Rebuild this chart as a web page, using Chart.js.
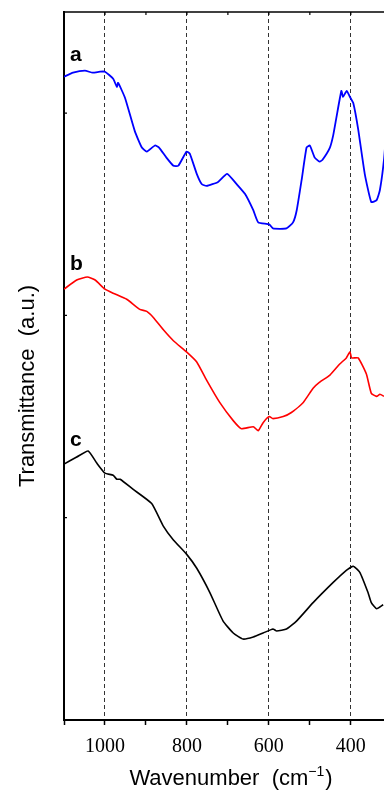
<!DOCTYPE html>
<html>
<head>
<meta charset="utf-8">
<script src="https://cdn.jsdelivr.net/npm/chart.js@4/dist/chart.umd.min.js"></script>
<style>
  html, body { margin: 0; padding: 0; background: #fff; overflow: hidden; }
  canvas { display: block; }
</style>
</head>
<body>
<canvas id="ftir" width="384" height="798"></canvas>
<script>
// FTIR spectra (wavenumber in cm^-1, transmittance in arbitrary units, curves offset)
const waveA  = [1100, 1078, 1049, 1030, 1012, 1000, 980, 971, 968, 951, 927, 910, 898, 878, 868, 850, 833, 821, 801, 793, 776, 764, 752, 724, 702, 679, 658, 638, 626, 599, 590, 557, 541, 532, 520, 508, 500, 488, 476, 469, 451, 443, 435, 423, 419, 410, 402, 394, 382, 366, 350, 337, 329, 319, 312];
const transA = [3.18, 3.20, 3.21, 3.20, 3.205, 3.205, 3.17, 3.13, 3.15, 3.075, 2.91, 2.83, 2.81, 2.84, 2.83, 2.78, 2.74, 2.74, 2.81, 2.80, 2.70, 2.65, 2.64, 2.66, 2.70, 2.65, 2.60, 2.52, 2.46, 2.45, 2.43, 2.43, 2.46, 2.52, 2.67, 2.83, 2.84, 2.78, 2.76, 2.77, 2.83, 2.89, 2.98, 3.11, 3.08, 3.11, 3.08, 3.05, 2.92, 2.70, 2.56, 2.57, 2.62, 2.77, 2.95];

const waveB  = [1100, 1069, 1043, 1024, 1000, 980, 947, 915, 898, 882, 858, 833, 801, 776, 752, 720, 687, 667, 638, 626, 614, 599, 590, 565, 545, 516, 492, 476, 451, 427, 411, 402, 398, 382, 362, 350, 337, 329, 319];
const transB = [2.13, 2.175, 2.19, 2.175, 2.13, 2.11, 2.08, 2.03, 2.02, 1.99, 1.93, 1.875, 1.82, 1.77, 1.68, 1.57, 1.48, 1.44, 1.45, 1.43, 1.47, 1.50, 1.49, 1.50, 1.52, 1.57, 1.64, 1.67, 1.705, 1.76, 1.79, 1.82, 1.79, 1.79, 1.71, 1.615, 1.60, 1.61, 1.60];

const waveC  = [1100, 1069, 1041, 1020, 1000, 980, 971, 963, 931, 886, 858, 833, 801, 776, 744, 712, 687, 663, 638, 614, 590, 581, 557, 532, 492, 443, 411, 394, 378, 358, 350, 337, 321];
const transC = [1.265, 1.30, 1.33, 1.27, 1.22, 1.21, 1.19, 1.19, 1.14, 1.07, 0.96, 0.89, 0.82, 0.75, 0.63, 0.49, 0.43, 0.40, 0.41, 0.43, 0.45, 0.44, 0.45, 0.49, 0.58, 0.68, 0.74, 0.76, 0.73, 0.63, 0.58, 0.55, 0.57];

const seriesNames = ['a', 'b', 'c'];
const labeledWaves = [1000, 800, 600, 400];   // dashed reference lines + labels
const yMarks = [1, 2, 3];                     // inner ticks on the left axis

const xTitle = 'Wavenumber  (cm';
const xTitleSup = '\u22121';
const yTitle = 'Transmittance  (a.u.)';

const pts = (w, t) => w.map((v, i) => ({ x: v, y: t[i] }));

const decorations = {
  id: 'decorations',
  afterDraw(chart) {
    const { ctx, chartArea: a, scales: { x, y } } = chart;
    ctx.save();
    ctx.strokeStyle = '#000';
    // top frame line
    ctx.lineWidth = 1.5;
    ctx.beginPath();
    ctx.moveTo(a.left - 1, a.top);
    ctx.lineTo(chart.width, a.top);
    ctx.stroke();
    // small inward ticks on the top frame
    ctx.lineWidth = 1.2;
    ctx.beginPath();
    x.ticks.forEach(t => {
      const px = x.getPixelForValue(t.value);
      ctx.moveTo(px, a.top);
      ctx.lineTo(px, a.top + 3);
    });
    // small inward ticks on the left axis
    yMarks.forEach(v => {
      const py = y.getPixelForValue(v);
      ctx.moveTo(a.left, py);
      ctx.lineTo(a.left + 3, py);
    });
    ctx.stroke();

    // series letters
    ctx.fillStyle = '#000';
    ctx.font = 'bold 21px "Liberation Sans", Arial, sans-serif';
    ctx.textAlign = 'left';
    ctx.textBaseline = 'alphabetic';
    const letterY = [61, 270, 446];
    seriesNames.forEach((s, i) => ctx.fillText(s, a.left + 6, letterY[i]));

    // x-axis title with superscript
    const main = '22px "Liberation Sans", Arial, sans-serif';
    const sup = '14px "Liberation Sans", Arial, sans-serif';
    ctx.font = main;
    const w1 = ctx.measureText(xTitle).width;
    const w3 = ctx.measureText(')').width;
    ctx.font = sup;
    const w2 = ctx.measureText(xTitleSup).width;
    const total = w1 + w2 + w3 + 1;
    let tx = 231 - total / 2;
    const base = 785;
    ctx.font = main;
    ctx.fillText(xTitle, tx, base);
    tx += w1;
    ctx.font = sup;
    ctx.fillText(xTitleSup, tx, base - 9);
    tx += w2 + 1;
    ctx.font = main;
    ctx.fillText(')', tx, base);

    // y-axis title
    ctx.translate(28, 386);
    ctx.rotate(-Math.PI / 2);
    ctx.textAlign = 'center';
    ctx.textBaseline = 'middle';
    ctx.font = main;
    ctx.fillText(yTitle, 0, 0);
    ctx.restore();
  }
};

new Chart(document.getElementById('ftir'), {
  type: 'line',
  data: {
    datasets: [
      { label: seriesNames[0], data: pts(waveA, transA), borderColor: '#0000ff', borderWidth: 1.8 },
      { label: seriesNames[1], data: pts(waveB, transB), borderColor: '#ff0000', borderWidth: 1.6 },
      { label: seriesNames[2], data: pts(waveC, transC), borderColor: '#000000', borderWidth: 1.6 }
    ]
  },
  options: {
    responsive: false,
    animation: false,
    layout: { padding: { top: 12, right: 0, left: 0, bottom: 0 } },
    elements: {
      point: { radius: 0 },
      line: { tension: 0.15, fill: false }
    },
    plugins: {
      legend: { display: false },
      tooltip: { enabled: false }
    },
    scales: {
      x: {
        type: 'linear',
        position: 'bottom',
        reverse: true,
        min: 319,
        max: 1100,
        afterFit: s => { s.height = 78; },
        border: { display: true, color: '#000', width: 2, dash: [4, 3] },
        grid: {
          drawOnChartArea: true,
          color: c => (c.tick && labeledWaves.includes(c.tick.value)) ? '#333' : 'rgba(0,0,0,0)',
          lineWidth: 1,
          tickColor: '#000',
          tickWidth: 1.5,
          tickLength: 5
        },
        ticks: {
          stepSize: 100,
          includeBounds: false,
          autoSkip: false,
          maxRotation: 0,
          color: '#000',
          padding: 10,
          font: { family: '"Liberation Serif", "Times New Roman", serif', size: 20 },
          callback: v => labeledWaves.includes(v) ? String(v) : ''
        }
      },
      y: {
        type: 'linear',
        min: 0,
        max: 3.5,
        afterFit: s => { s.width = 64; },
        border: { display: true, color: '#000', width: 2 },
        grid: { display: false },
        ticks: { display: false }
      }
    }
  },
  plugins: [decorations]
});
</script>
</body>
</html>
